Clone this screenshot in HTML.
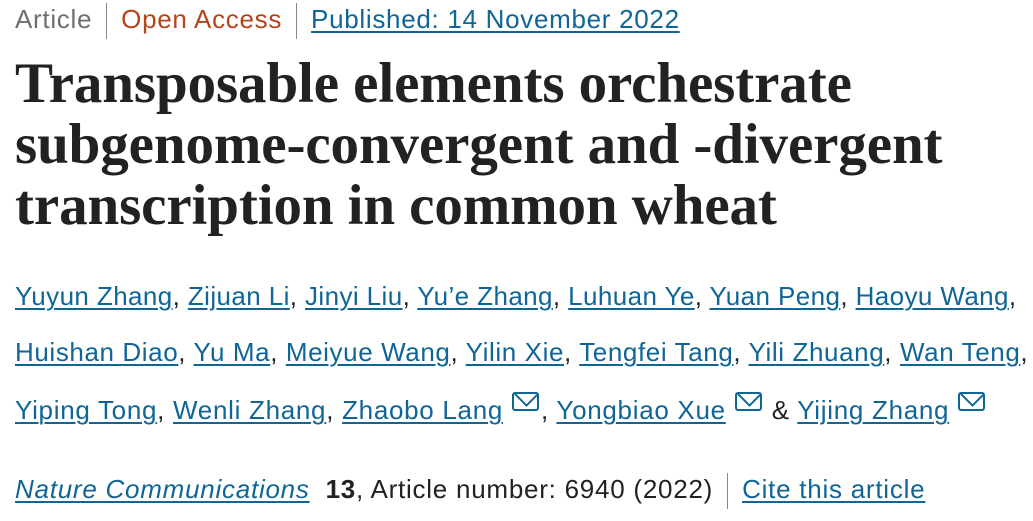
<!DOCTYPE html>
<html><head><meta charset="utf-8"><style>
body{margin:0;width:1033px;height:521px;background:#fff;overflow:hidden;position:relative;font-family:"Liberation Sans",sans-serif;}
.l{position:absolute;left:15px;white-space:nowrap;}
a{color:#0f6596;text-decoration:underline;text-underline-offset:3px;text-decoration-thickness:2px;}
.t{font-family:"Liberation Serif",serif;font-weight:bold;font-size:57px;color:#222;letter-spacing:-0.1px;line-height:61px;}
.au{font-size:26px;color:#222;letter-spacing:0.4px;}
.m{display:inline-block;width:27px;height:19px;border:2px solid #0f6596;border-radius:3px;position:relative;vertical-align:8px;margin-left:9px;margin-right:2px;box-sizing:border-box;overflow:hidden}
.m:after{content:"";position:absolute;left:3px;top:-10px;width:15px;height:15px;border:2px solid #0f6596;transform:rotate(45deg);}
.sep{display:inline-block;width:1px;height:36px;background:#888;vertical-align:middle;margin:0 14px;}
</style></head><body>
<div class="l" style="top:0px;font-size:26px;letter-spacing:0.7px;line-height:38px;color:#6f6f6f">Article<span class="sep"></span><span style="color:#b4451a">Open Access</span><span class="sep"></span><a>Published: 14 November 2022</a></div>
<div class="l t" style="top:53px">Transposable elements orchestrate<br>subgenome-convergent and -divergent<br>transcription in common wheat</div>
<div class="l au" style="top:281px"><a>Yuyun Zhang</a>, <a>Zijuan Li</a>, <a>Jinyi Liu</a>, <a>Yu’e Zhang</a>, <a>Luhuan Ye</a>, <a>Yuan Peng</a>, <a>Haoyu Wang</a>,</div>
<div class="l au" style="top:337px;letter-spacing:0.6px"><a>Huishan Diao</a>, <a>Yu Ma</a>, <a>Meiyue Wang</a>, <a>Yilin Xie</a>, <a>Tengfei Tang</a>, <a>Yili Zhuang</a>, <a>Wan Teng</a>,</div>
<div class="l au" style="top:392px;letter-spacing:0.7px"><a>Yiping Tong</a>, <a>Wenli Zhang</a>, <a>Zhaobo Lang</a><span class="m"></span>, <a>Yongbiao Xue</a><span class="m"></span> &amp; <a>Yijing Zhang</a><span class="m"></span></div>
<div class="l au" style="top:470px;line-height:38px;letter-spacing:0.75px"><a style="font-style:italic">Nature Communications</a>&nbsp; <b>13</b>, Article number: 6940 (2022)<span class="sep"></span><a>Cite this article</a></div>
</body></html>
